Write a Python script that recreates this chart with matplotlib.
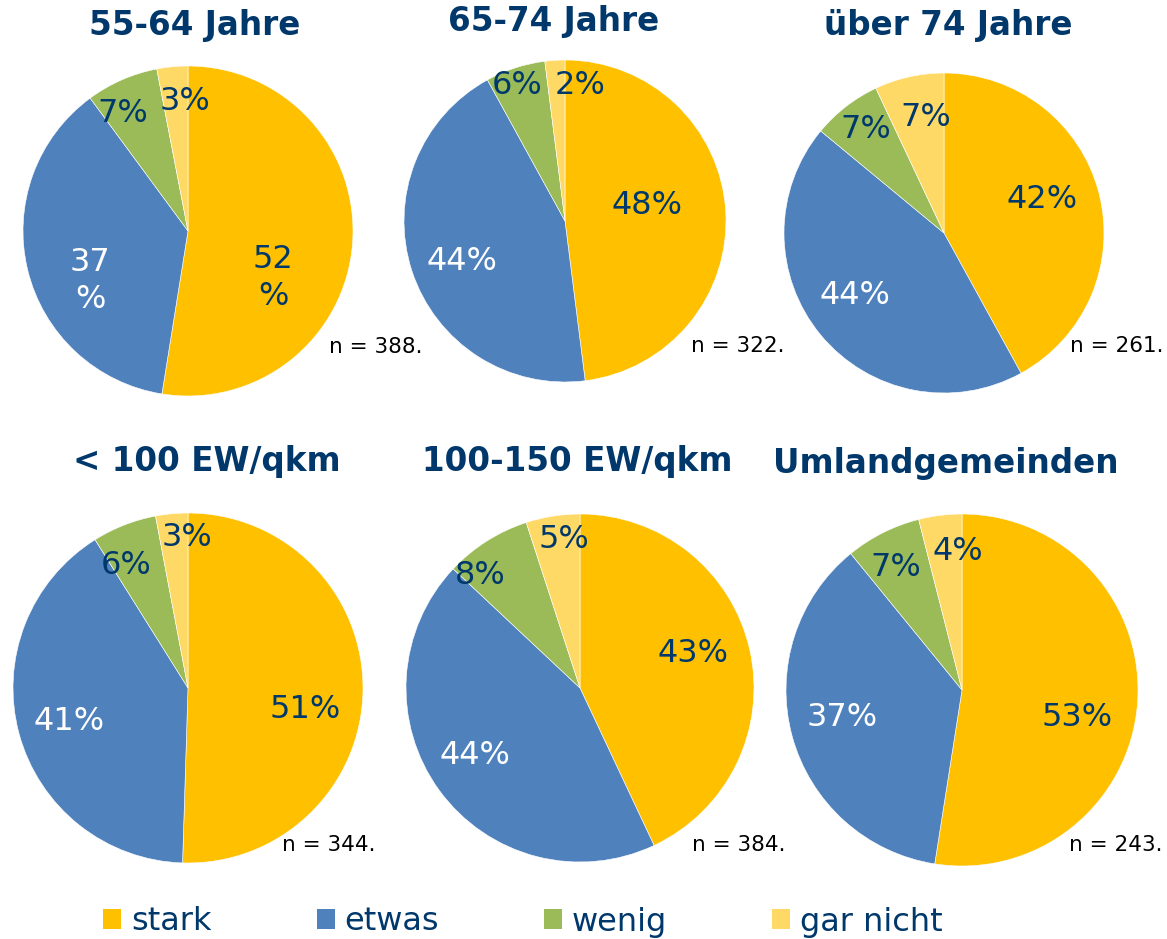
import matplotlib
matplotlib.use("Agg")
import matplotlib.pyplot as plt
from matplotlib.patches import Patch

# ---- data ----
categories = ["stark", "etwas", "wenig", "gar nicht"]
titles = ["55-64 Jahre", "65-74 Jahre", "über 74 Jahre",
          "< 100 EW/qkm", "100-150 EW/qkm", "Umlandgemeinden"]
values_55_64 = [52, 37, 7, 3]
values_65_74 = [48, 44, 6, 2]
values_ueber_74 = [42, 44, 7, 7]
values_lt100 = [51, 41, 6, 3]
values_100_150 = [43, 44, 8, 5]
values_umland = [53, 37, 7, 4]
n_values = [388, 322, 261, 344, 384, 243]
all_values = [values_55_64, values_65_74, values_ueber_74,
              values_lt100, values_100_150, values_umland]

# ---- style / layout ----
W, H = 1167, 939
colors = ["#FFC000", "#4F81BD", "#9BBB59", "#FFD966"]
label_colors = ["#00386B", "white", "#00386B", "#00386B"]
title_color = "#00386B"
wrap_labels = [True, False, False, False, False, False]

# pie centers and radii (pixels, y from top)
centers = [(188, 231), (565, 221), (944, 233),
           (188, 688), (580, 688), (962, 690)]
radii = [165, 161, 160, 175, 174, 176]
title_pos = [(195, 25), (554, 22), (948, 25), (207, 462), (577, 462), (946, 463)]
n_pos = [(329, 347), (691, 346), (1070, 346), (282, 845), (692, 845), (1069, 845)]
# label positions (pixels, y from top)
label_pos = [
    [(273, 278), (90, 281), (123, 113), (185, 101)],
    [(647, 206), (462, 262), (517, 86), (580, 86)],
    [(1042, 200), (855, 295), (866, 129), (926, 117)],
    [(305, 710), (69, 721), (126, 566), (187, 537)],
    [(693, 654), (475, 755), (480, 575), (564, 539)],
    [(1077, 717), (842, 717), (896, 567), (958, 552)],
]

fig = plt.figure(figsize=(W / 100, H / 100), dpi=100)
ax = fig.add_axes([0, 0, 1, 1])

def Y(y):
    return H - y

for i, vals in enumerate(all_values):
    cx, cy = centers[i]
    ax.pie(vals, colors=colors, startangle=90, counterclock=False,
           center=(cx, Y(cy)), radius=radii[i], frame=True,
           wedgeprops=dict(linewidth=0.4, edgecolor="white"))
    for j, v in enumerate(vals):
        txt = f"{v}\n%" if wrap_labels[i] and j < 2 else f"{v}%"
        lx, ly = label_pos[i][j]
        ax.text(lx, Y(ly), txt, ha="center", va="center", fontsize=23,
                color=label_colors[j], family="DejaVu Sans",
                linespacing=1.25)
    tx, ty = title_pos[i]
    ax.text(tx, Y(ty), titles[i], ha="center", va="center", fontsize=23.5,
            fontweight="bold", color=title_color, family="DejaVu Sans")
    nx, ny = n_pos[i]
    ax.text(nx, Y(ny), f"n = {n_values[i]}.", ha="left", va="center",
            fontsize=15.5, color="black", family="DejaVu Sans")

ax.set_xlim(0, W)
ax.set_ylim(0, H)
ax.set_aspect("equal")
ax.axis("off")

handles = [Patch(facecolor=c, edgecolor="none", label=l) for c, l in zip(colors, categories)]
leg = fig.legend(handles=handles, loc="center", ncol=4, frameon=False,
                 bbox_to_anchor=(523 / W, 1 - 922 / H),
                 prop=dict(family="DejaVu Sans", size=23),
                 handlelength=0.56, handleheight=0.56, handletextpad=0.3,
                 columnspacing=3.3, borderpad=0)
for t in leg.get_texts():
    t.set_color(title_color)

fig.savefig("out.png", dpi=100)
